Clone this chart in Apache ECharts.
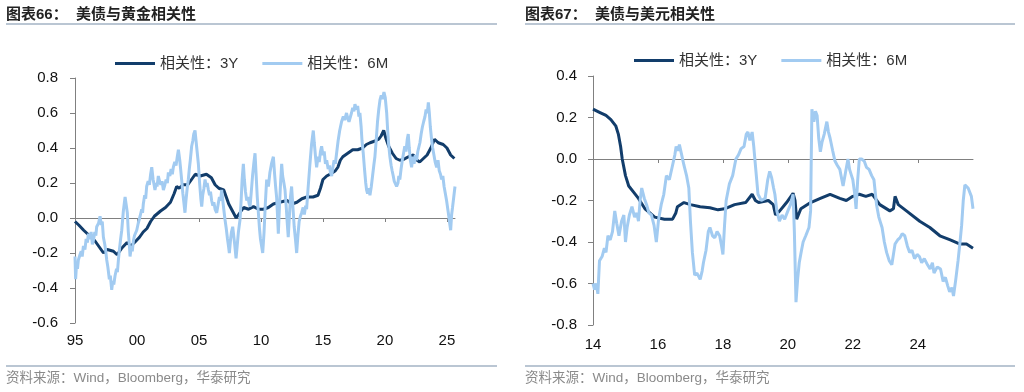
<!DOCTYPE html>
<html><head><meta charset="utf-8">
<script src="https://cdn.jsdelivr.net/npm/echarts@6/dist/echarts.min.js"></script>
<style>html,body{margin:0;padding:0;background:#fff;}#c{width:1024px;height:392px;}</style>
</head><body><div id="c"></div>
<script>
// ---------- DATA ----------
const seriesNames = ['相关性：3Y', '相关性：6M'];
const goldTickYears = [1995, 2000, 2005, 2010, 2015, 2020, 2025];
const usdTickYears = [2014, 2016, 2018, 2020, 2022, 2024];

// 美债与黄金相关性 3Y  [year, value]
const gold3Y = [[1995.0,-0.02],[1995.3,-0.04],[1995.7,-0.07],[1996.0,-0.09],[1996.3,-0.11],[1996.6,-0.13],[1996.9,-0.16],[1997.3,-0.20],[1997.6,-0.18],[1998.1,-0.19],[1998.4,-0.21],[1998.8,-0.17],[1999.2,-0.14],[1999.5,-0.16],[1999.8,-0.14],[2000.2,-0.11],[2000.5,-0.08],[2000.8,-0.06],[2001.1,-0.02],[2001.4,0.01],[2001.9,0.04],[2002.3,0.06],[2002.7,0.09],[2003.0,0.14],[2003.2,0.18],[2003.4,0.17],[2003.7,0.19],[2004.1,0.19],[2004.4,0.22],[2004.7,0.25],[2005.1,0.24],[2005.6,0.25],[2006.0,0.23],[2006.3,0.19],[2006.6,0.17],[2007.0,0.16],[2007.2,0.12],[2007.4,0.08],[2007.7,0.04],[2008.0,0.0],[2008.3,0.03],[2008.6,0.06],[2009.0,0.05],[2009.4,0.065],[2009.8,0.05],[2010.2,0.05],[2010.6,0.06],[2011.0,0.08],[2011.5,0.09],[2012.1,0.10],[2012.5,0.08],[2012.9,0.09],[2013.3,0.11],[2013.7,0.12],[2014.2,0.12],[2014.6,0.13],[2014.8,0.17],[2015.0,0.22],[2015.3,0.24],[2015.7,0.255],[2016.0,0.27],[2016.2,0.29],[2016.4,0.33],[2016.6,0.35],[2017.0,0.37],[2017.4,0.39],[2017.8,0.39],[2018.2,0.40],[2018.5,0.42],[2018.8,0.43],[2019.2,0.44],[2019.5,0.45],[2019.7,0.47],[2019.9,0.50],[2020.1,0.45],[2020.3,0.41],[2020.6,0.37],[2020.9,0.34],[2021.2,0.33],[2021.5,0.335],[2021.9,0.35],[2022.3,0.36],[2022.6,0.33],[2022.8,0.32],[2023.1,0.34],[2023.4,0.36],[2023.7,0.40],[2024.0,0.45],[2024.3,0.43],[2024.7,0.42],[2025.0,0.40],[2025.3,0.36],[2025.6,0.34]];

// 美债与黄金相关性 6M
const gold6M = [[1995.0,-0.22],[1995.05,-0.35],[1995.12,-0.27],[1995.2,-0.29],[1995.27,-0.24],[1995.4,-0.21],[1995.5,-0.19],[1995.58,-0.22],[1995.68,-0.16],[1995.8,-0.18],[1995.9,-0.12],[1996.0,-0.14],[1996.08,-0.09],[1996.2,-0.12],[1996.3,-0.08],[1996.4,-0.15],[1996.48,-0.13],[1996.6,-0.08],[1996.68,-0.10],[1996.75,-0.05],[1996.9,-0.03],[1997.02,0.01],[1997.12,-0.04],[1997.2,-0.02],[1997.29,-0.11],[1997.4,-0.15],[1997.48,-0.19],[1997.56,-0.24],[1997.65,-0.28],[1997.77,-0.35],[1997.85,-0.33],[1997.96,-0.41],[1998.05,-0.36],[1998.13,-0.38],[1998.23,-0.33],[1998.35,-0.29],[1998.42,-0.31],[1998.5,-0.24],[1998.6,-0.17],[1998.68,-0.12],[1998.77,-0.07],[1998.9,0.04],[1999.04,0.12],[1999.12,0.08],[1999.22,0.03],[1999.3,-0.08],[1999.38,-0.15],[1999.44,-0.22],[1999.55,-0.16],[1999.62,-0.19],[1999.71,-0.13],[1999.8,-0.10],[1999.9,-0.11],[1999.98,-0.07],[2000.1,-0.03],[2000.18,-0.04],[2000.25,0.01],[2000.38,0.05],[2000.45,0.03],[2000.51,0.08],[2000.62,0.13],[2000.7,0.11],[2000.78,0.18],[2000.9,0.21],[2001.0,0.19],[2001.1,0.25],[2001.19,0.29],[2001.3,0.22],[2001.38,0.19],[2001.45,0.16],[2001.55,0.20],[2001.62,0.18],[2001.72,0.24],[2001.82,0.21],[2001.92,0.19],[2002.02,0.21],[2002.13,0.16],[2002.25,0.19],[2002.35,0.22],[2002.45,0.20],[2002.53,0.26],[2002.65,0.24],[2002.75,0.28],[2002.85,0.25],[2002.93,0.29],[2003.05,0.32],[2003.15,0.30],[2003.25,0.35],[2003.34,0.39],[2003.45,0.33],[2003.52,0.28],[2003.6,0.22],[2003.7,0.14],[2003.78,0.09],[2003.87,0.03],[2003.95,0.10],[2004.05,0.17],[2004.14,0.22],[2004.22,0.28],[2004.3,0.33],[2004.41,0.41],[2004.5,0.44],[2004.58,0.48],[2004.68,0.50],[2004.75,0.45],[2004.85,0.38],[2004.95,0.31],[2005.05,0.20],[2005.15,0.11],[2005.22,0.065],[2005.3,0.13],[2005.4,0.17],[2005.49,0.22],[2005.58,0.18],[2005.66,0.20],[2005.76,0.16],[2005.85,0.13],[2005.93,0.15],[2006.02,0.10],[2006.12,0.07],[2006.2,0.09],[2006.3,0.05],[2006.43,0.03],[2006.55,0.08],[2006.65,0.12],[2006.75,0.10],[2006.83,0.16],[2006.92,0.10],[2007.0,0.05],[2007.1,-0.01],[2007.2,-0.06],[2007.3,-0.12],[2007.38,-0.16],[2007.45,-0.20],[2007.55,-0.12],[2007.62,-0.08],[2007.72,-0.05],[2007.8,-0.10],[2007.88,-0.15],[2007.99,-0.23],[2008.08,-0.16],[2008.18,-0.08],[2008.31,-0.01],[2008.4,0.10],[2008.48,0.22],[2008.58,0.31],[2008.66,0.22],[2008.75,0.15],[2008.85,0.10],[2008.95,0.12],[2009.05,0.08],[2009.12,0.065],[2009.22,0.15],[2009.32,0.24],[2009.42,0.31],[2009.52,0.37],[2009.6,0.26],[2009.7,0.12],[2009.79,0.03],[2009.88,-0.06],[2009.96,-0.12],[2010.05,-0.16],[2010.14,-0.20],[2010.25,-0.08],[2010.35,0.08],[2010.46,0.22],[2010.6,0.18],[2010.72,0.26],[2010.85,0.31],[2011.0,0.35],[2011.1,0.25],[2011.18,0.18],[2011.26,0.12],[2011.33,0.02],[2011.4,-0.09],[2011.5,0.08],[2011.58,0.20],[2011.67,0.31],[2011.75,0.24],[2011.85,0.20],[2011.94,0.16],[2012.05,0.05],[2012.12,-0.03],[2012.2,-0.11],[2012.3,0.02],[2012.38,0.12],[2012.47,0.18],[2012.58,0.06],[2012.68,-0.05],[2012.78,-0.12],[2012.88,-0.20],[2012.98,-0.10],[2013.08,-0.02],[2013.18,0.01],[2013.28,0.03],[2013.4,0.06],[2013.5,0.02],[2013.6,0.07],[2013.68,0.05],[2013.8,0.17],[2013.95,0.31],[2014.08,0.42],[2014.22,0.50],[2014.3,0.43],[2014.4,0.35],[2014.49,0.29],[2014.6,0.35],[2014.7,0.32],[2014.8,0.38],[2014.89,0.41],[2015.0,0.36],[2015.1,0.38],[2015.2,0.31],[2015.3,0.33],[2015.42,0.28],[2015.52,0.30],[2015.6,0.26],[2015.7,0.24],[2015.8,0.29],[2015.9,0.33],[2016.0,0.31],[2016.1,0.37],[2016.22,0.44],[2016.35,0.50],[2016.5,0.55],[2016.64,0.58],[2016.75,0.56],[2016.9,0.60],[2017.0,0.57],[2017.1,0.55],[2017.18,0.54],[2017.3,0.60],[2017.4,0.63],[2017.5,0.61],[2017.58,0.65],[2017.7,0.62],[2017.8,0.64],[2017.9,0.58],[2017.98,0.60],[2018.08,0.52],[2018.15,0.44],[2018.25,0.37],[2018.35,0.28],[2018.45,0.20],[2018.52,0.16],[2018.6,0.14],[2018.7,0.17],[2018.79,0.13],[2018.9,0.18],[2019.0,0.24],[2019.1,0.30],[2019.19,0.35],[2019.3,0.45],[2019.4,0.55],[2019.5,0.62],[2019.6,0.675],[2019.7,0.70],[2019.8,0.68],[2019.92,0.72],[2020.02,0.69],[2020.14,0.60],[2020.22,0.50],[2020.3,0.42],[2020.4,0.35],[2020.5,0.30],[2020.58,0.27],[2020.67,0.24],[2020.75,0.21],[2020.85,0.22],[2020.94,0.18],[2021.05,0.20],[2021.12,0.24],[2021.2,0.22],[2021.3,0.28],[2021.4,0.33],[2021.5,0.37],[2021.6,0.41],[2021.7,0.38],[2021.8,0.45],[2021.88,0.48],[2021.96,0.40],[2022.05,0.33],[2022.15,0.29],[2022.25,0.35],[2022.35,0.31],[2022.45,0.36],[2022.55,0.33],[2022.65,0.38],[2022.75,0.41],[2022.82,0.43],[2022.92,0.48],[2023.02,0.52],[2023.12,0.55],[2023.23,0.58],[2023.32,0.62],[2023.42,0.60],[2023.5,0.66],[2023.58,0.60],[2023.66,0.52],[2023.76,0.45],[2023.85,0.40],[2023.95,0.36],[2024.05,0.32],[2024.17,0.29],[2024.28,0.33],[2024.38,0.27],[2024.48,0.25],[2024.57,0.22],[2024.67,0.24],[2024.77,0.18],[2024.87,0.14],[2024.97,0.10],[2025.07,0.05],[2025.15,0.01],[2025.22,-0.03],[2025.3,-0.07],[2025.38,0.02],[2025.45,0.06],[2025.55,0.12],[2025.65,0.18]];

// 美债与美元相关性 3Y
const usd3Y = [[2014.0,0.24],[2014.2,0.225],[2014.4,0.21],[2014.55,0.19],[2014.7,0.16],[2014.78,0.12],[2014.85,0.06],[2014.9,0.0],[2015.0,-0.08],[2015.1,-0.13],[2015.25,-0.16],[2015.4,-0.19],[2015.6,-0.24],[2015.75,-0.26],[2015.9,-0.28],[2016.2,-0.29],[2016.45,-0.29],[2016.55,-0.26],[2016.6,-0.23],[2016.8,-0.21],[2017.0,-0.22],[2017.3,-0.23],[2017.6,-0.235],[2017.85,-0.245],[2018.05,-0.24],[2018.36,-0.22],[2018.7,-0.21],[2018.9,-0.17],[2019.0,-0.2],[2019.1,-0.21],[2019.4,-0.20],[2019.55,-0.22],[2019.62,-0.27],[2019.75,-0.25],[2019.96,-0.21],[2020.16,-0.165],[2020.22,-0.2],[2020.27,-0.29],[2020.4,-0.24],[2020.7,-0.21],[2021.0,-0.19],[2021.3,-0.17],[2021.6,-0.19],[2021.8,-0.20],[2022.0,-0.18],[2022.2,-0.17],[2022.4,-0.18],[2022.6,-0.17],[2022.83,-0.22],[2023.14,-0.25],[2023.25,-0.24],[2023.3,-0.18],[2023.4,-0.22],[2023.65,-0.25],[2024.06,-0.30],[2024.37,-0.33],[2024.68,-0.37],[2025.0,-0.39],[2025.3,-0.41],[2025.5,-0.41],[2025.7,-0.43]];

// 美债与美元相关性 6M
const usd6M = [[2014.0,-0.6],[2014.05,-0.63],[2014.1,-0.60],[2014.15,-0.65],[2014.2,-0.49],[2014.28,-0.47],[2014.35,-0.43],[2014.4,-0.45],[2014.46,-0.37],[2014.53,-0.39],[2014.6,-0.35],[2014.67,-0.25],[2014.73,-0.31],[2014.8,-0.37],[2014.88,-0.30],[2014.95,-0.27],[2015.0,-0.40],[2015.05,-0.33],[2015.12,-0.27],[2015.2,-0.23],[2015.28,-0.28],[2015.35,-0.26],[2015.4,-0.30],[2015.45,-0.20],[2015.5,-0.14],[2015.58,-0.19],[2015.65,-0.22],[2015.72,-0.26],[2015.8,-0.27],[2015.88,-0.32],[2015.95,-0.40],[2016.02,-0.29],[2016.1,-0.22],[2016.18,-0.17],[2016.26,-0.08],[2016.35,-0.10],[2016.45,-0.03],[2016.52,0.02],[2016.56,0.06],[2016.62,0.04],[2016.66,0.07],[2016.73,0.02],[2016.8,-0.03],[2016.88,-0.08],[2016.95,-0.14],[2017.0,-0.30],[2017.06,-0.45],[2017.13,-0.56],[2017.2,-0.55],[2017.3,-0.58],[2017.36,-0.54],[2017.4,-0.50],[2017.48,-0.44],[2017.55,-0.35],[2017.6,-0.33],[2017.68,-0.37],[2017.75,-0.38],[2017.82,-0.35],[2017.9,-0.37],[2017.96,-0.42],[2018.0,-0.46],[2018.05,-0.32],[2018.1,-0.2],[2018.2,-0.12],[2018.3,-0.08],[2018.35,-0.04],[2018.4,0.0],[2018.48,0.02],[2018.56,0.05],[2018.65,0.06],[2018.72,0.12],[2018.77,0.13],[2018.83,0.09],[2018.9,0.13],[2018.95,0.06],[2019.0,-0.03],[2019.08,-0.17],[2019.18,-0.20],[2019.3,-0.19],[2019.38,-0.10],[2019.44,-0.06],[2019.5,-0.09],[2019.56,-0.14],[2019.6,-0.17],[2019.66,-0.25],[2019.74,-0.30],[2019.82,-0.27],[2019.9,-0.29],[2020.0,-0.25],[2020.08,-0.22],[2020.16,-0.17],[2020.2,-0.35],[2020.25,-0.69],[2020.3,-0.58],[2020.35,-0.50],[2020.42,-0.44],[2020.47,-0.40],[2020.55,-0.37],[2020.65,-0.33],[2020.7,-0.25],[2020.72,0.0],[2020.74,0.24],[2020.8,0.18],[2020.85,0.23],[2020.9,0.21],[2020.95,0.10],[2021.0,0.035],[2021.05,0.08],[2021.12,0.12],[2021.2,0.18],[2021.25,0.13],[2021.3,0.10],[2021.38,0.04],[2021.45,-0.01],[2021.52,-0.03],[2021.6,-0.05],[2021.65,-0.09],[2021.7,-0.13],[2021.78,-0.06],[2021.85,0.0],[2021.9,-0.05],[2021.96,-0.08],[2022.0,-0.1],[2022.06,-0.17],[2022.1,-0.24],[2022.15,-0.1],[2022.2,0.0],[2022.27,0.0],[2022.35,-0.01],[2022.42,-0.04],[2022.5,-0.05],[2022.58,-0.08],[2022.65,-0.10],[2022.73,-0.22],[2022.8,-0.28],[2022.9,-0.33],[2022.97,-0.40],[2023.04,-0.45],[2023.12,-0.49],[2023.2,-0.51],[2023.26,-0.45],[2023.3,-0.41],[2023.38,-0.39],[2023.45,-0.38],[2023.52,-0.36],[2023.6,-0.37],[2023.68,-0.42],[2023.75,-0.45],[2023.82,-0.44],[2023.9,-0.48],[2023.98,-0.46],[2024.05,-0.47],[2024.12,-0.50],[2024.2,-0.48],[2024.3,-0.51],[2024.38,-0.53],[2024.45,-0.50],[2024.5,-0.55],[2024.6,-0.52],[2024.7,-0.53],[2024.78,-0.59],[2024.85,-0.57],[2024.92,-0.61],[2024.98,-0.64],[2025.05,-0.62],[2025.1,-0.66],[2025.17,-0.58],[2025.24,-0.49],[2025.3,-0.40],[2025.35,-0.32],[2025.4,-0.20],[2025.45,-0.125],[2025.5,-0.13],[2025.55,-0.14],[2025.6,-0.14],[2025.65,-0.18],[2025.7,-0.24]];

// ---------- STYLE ----------
const DARK = '#123d6b', LIGHT = '#a2cbf1', AXIS = '#808080', RULE = '#a3b3c5';
const NUM_FONT = '"Liberation Sans", Arial, sans-serif';
const MIX_FONT = '"Liberation Sans", Arial, "Noto Sans CJK SC", sans-serif';
const yrFmt = v => String(Math.round(v) % 100).padStart(2, '0');
const yFmt = v => (Math.abs(v) < 1e-9 ? 0 : v).toFixed(1);

function labelAxis(grid, min, max, ticks, margin) {
  return { type: 'value', gridIndex: grid, min, max, position: 'bottom',
    axisLine: { show: false, onZero: false }, axisTick: { show: false }, splitLine: { show: false },
    axisLabel: { customValues: ticks, formatter: yrFmt, color: '#111', fontSize: 15, fontFamily: NUM_FONT, margin } };
}
function zeroAxis(grid, min, max, ticks) {
  return { type: 'value', gridIndex: grid, min, max, position: 'bottom',
    axisLine: { show: true, onZero: true, lineStyle: { color: AXIS, width: 1 } },
    axisTick: { show: true, customValues: ticks, length: 4, lineStyle: { color: AXIS } },
    axisLabel: { show: false }, splitLine: { show: false } };
}
function yAxis(grid, min, max, margin) {
  return { type: 'value', gridIndex: grid, min, max, interval: 0.2,
    axisLine: { show: true, onZero: false, lineStyle: { color: AXIS } },
    axisTick: { show: true, length: 5, lineStyle: { color: AXIS } },
    splitLine: { show: false },
    axisLabel: { formatter: yFmt, color: '#111', fontSize: 15, fontFamily: NUM_FONT, margin } };
}
function legend(left, top) {
  return { left, top, padding: 0, itemWidth: 40, itemHeight: 3, itemGap: 24, icon: 'rect',
    data: seriesNames, textStyle: { fontSize: 15, color: '#333', fontFamily: MIX_FONT } };
}
function line(name, data, xi, yi, color, width) {
  return { name, type: 'line', data, xAxisIndex: xi, yAxisIndex: yi, symbol: 'none', showSymbol: false,
    color, lineStyle: { color, width }, animation: false };
}
function txt(x, y, text, size, color, weight) {
  return { type: 'text', x, y, style: { text, fontSize: size, fill: color, fontWeight: weight || 'normal',
    fontFamily: MIX_FONT, textVerticalAlign: 'middle', verticalAlign: 'middle' } };
}
function rule(x1, x2, y) {
  return { type: 'line', shape: { x1, y1: y, x2, y2: y }, style: { stroke: RULE, lineWidth: 1.5 } };
}

const chart = echarts.init(document.getElementById('c'), null, { renderer: 'canvas' });
chart.setOption({
  animation: false,
  backgroundColor: '#fff',
  grid: [
    { left: 75, top: 78, width: 380, height: 245, containLabel: false, outerBoundsMode: 'none' },
    { left: 593, top: 76, width: 380, height: 249, containLabel: false, outerBoundsMode: 'none' }
  ],
  legend: [legend(115, 56), legend(634, 53)],
  xAxis: [
    labelAxis(0, 1995, 2025.65, goldTickYears, 10),
    zeroAxis(0, 1995, 2025.65, goldTickYears),
    labelAxis(1, 2014, 2025.7, usdTickYears, 12),
    zeroAxis(1, 2014, 2025.7, usdTickYears)
  ],
  yAxis: [yAxis(0, -0.6, 0.8, 17), yAxis(1, -0.8, 0.4, 16)],
  series: [
    line(seriesNames[0], gold3Y, 0, 0, DARK, 3),
    line(seriesNames[1], gold6M, 0, 0, LIGHT, 3),
    line(seriesNames[0], usd3Y, 2, 1, DARK, 3),
    line(seriesNames[1], usd6M, 2, 1, LIGHT, 3)
  ],
  graphic: [
    txt(6, 15, '图表66：', 15, '#222', 'bold'),
    txt(76, 15, '美债与黄金相关性', 15, '#222', 'bold'),
    rule(6, 497, 24),
    txt(525, 15, '图表67：', 15, '#222', 'bold'),
    txt(595, 15, '美债与美元相关性', 15, '#222', 'bold'),
    rule(525, 1015, 24),
    rule(6, 497, 366),
    txt(6, 378, '资料来源：Wind，Bloomberg，华泰研究', 13.5, '#8a8a8a'),
    rule(525, 1015, 366),
    txt(525, 378, '资料来源：Wind，Bloomberg，华泰研究', 13.5, '#8a8a8a')
  ]
});
</script>
</body></html>
